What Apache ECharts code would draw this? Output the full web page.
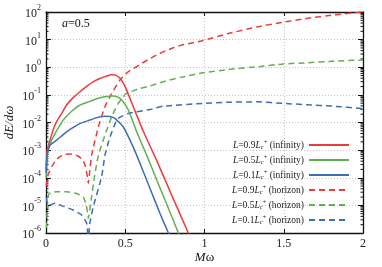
<!DOCTYPE html>
<html><head><meta charset="utf-8">
<script src="https://cdn.jsdelivr.net/npm/echarts@6/dist/echarts.min.js"></script>
<style>html,body{margin:0;padding:0;background:#fff}#c{width:382px;height:267px}</style>
</head><body><div id="c"></div>
<script>
// ---- data (Mω, dE/dω) ----
const xTickValues = [0, 0.5, 1, 1.5, 2];
const yDecades = [-6, -5, -4, -3, -2, -1, 0, 1, 2];
const coefs = ['0.9', '0.5', '0.1'];
const places = ['infinity', 'horizon'];

const infRed = [[0.001,2e-4],[0.005,7e-4],[0.012,1.3e-3],[0.025,2.3e-3],[0.045,5.5e-3],[0.067,1.07e-2],[0.10,2.2e-2],[0.13,4.3e-2],[0.17,7.8e-2],[0.215,0.13],[0.26,0.21],[0.30,0.30],[0.34,0.39],[0.383,0.48],[0.414,0.54],[0.44,0.52],[0.467,0.40],[0.50,0.195],[0.551,0.037],[0.614,4.8e-3],[0.70,4e-4],[0.80,1.9e-5],[0.898,1e-6],[0.93,4e-7]];
const infGreen = [[0.001,1e-4],[0.006,5e-4],[0.015,1.1e-3],[0.03,2e-3],[0.046,3e-3],[0.075,6e-3],[0.109,1.23e-2],[0.16,2.5e-2],[0.215,4.3e-2],[0.278,5.8e-2],[0.32,7.2e-2],[0.37,8.5e-2],[0.425,9.1e-2],[0.45,8.5e-2],[0.478,6.5e-2],[0.52,2.8e-2],[0.572,4.6e-3],[0.635,6.6e-4],[0.70,8e-5],[0.80,3.2e-6],[0.835,1e-6],[0.87,3.3e-7]];
const infBlue = [[0.001,1.5e-4],[0.006,6e-4],[0.015,1.1e-3],[0.03,1.6e-3],[0.067,2.3e-3],[0.10,3.3e-3],[0.13,4.6e-3],[0.17,6.5e-3],[0.215,9.3e-3],[0.278,1.23e-2],[0.32,1.5e-2],[0.372,1.7e-2],[0.404,1.65e-2],[0.435,1.4e-2],[0.488,6.9e-3],[0.53,2.3e-3],[0.572,6.6e-4],[0.65,5e-5],[0.72,5e-6],[0.772,1e-6],[0.80,4e-7]];
const horRed = [[0.002,5e-5],[0.006,8e-5],[0.015,1.4e-4],[0.036,2.5e-4],[0.06,4.2e-4],[0.088,5.8e-4],[0.12,7e-4],[0.151,7.2e-4],[0.18,6.8e-4],[0.204,6e-4],[0.23,4.5e-4],[0.246,2.9e-4],[0.258,1.4e-4],[0.267,6.3e-5],[0.275,1.6e-4],[0.288,6.6e-4],[0.33,6.9e-3],[0.372,3.7e-2],[0.414,0.11],[0.467,0.35],[0.52,0.69],[0.593,1.26],[0.645,1.9],[0.70,2.8],[0.74,3.6],[0.80,5],[0.85,6.2],[0.92,7.6],[0.992,9.3],[1.15,16.6],[1.34,29.5],[1.497,42.7],[1.65,58.9],[1.81,77.6],[2.0,102]];
const horGreen = [[0.003,1.5e-6],[0.008,8e-6],[0.015,2.3e-5],[0.03,2.9e-5],[0.067,3.1e-5],[0.13,3.1e-5],[0.194,2.7e-5],[0.235,2e-5],[0.255,1e-5],[0.267,3.4e-6],[0.285,1.6e-5],[0.305,1e-4],[0.33,6.3e-4],[0.372,3.5e-3],[0.414,1.6e-2],[0.456,4.9e-2],[0.5,0.105],[0.52,0.123],[0.593,0.17],[0.656,0.21],[0.74,0.30],[0.85,0.43],[0.992,0.63],[1.15,0.83],[1.34,1.05],[1.497,1.32],[1.65,1.45],[1.81,1.66],[2.0,1.82]];
const horBlue = [[0.002,2e-5],[0.008,1.2e-5],[0.015,1e-5],[0.057,1.2e-5],[0.109,9.3e-6],[0.172,6.8e-6],[0.225,4.5e-6],[0.257,2.2e-6],[0.267,5e-7],[0.275,2e-6],[0.298,8.9e-6],[0.351,1.1e-4],[0.372,6.6e-4],[0.404,3e-3],[0.446,1.23e-2],[0.47,1.6e-2],[0.53,2.2e-2],[0.656,2.95e-2],[0.74,3.9e-2],[0.992,4.9e-2],[1.15,5.4e-2],[1.34,5.6e-2],[1.497,4.9e-2],[1.65,4.4e-2],[1.81,3.9e-2],[2.0,3.2e-2]];

const FONT = 'Liberation Serif';
const RED = '#ec3b3b', GREEN = '#64ae52', BLUE = '#3e6db6';
const colors = [RED, GREEN, BLUE];
const dataSets = [infRed, infGreen, infBlue, horRed, horGreen, horBlue];

const names = [];
const series = [];
for (let p = 0; p < 2; p++) {
  for (let i = 0; i < 3; i++) {
    const name = 'L=' + coefs[i] + 'Lc+ (' + places[p] + ')';
    names.push(name);
    series.push({
      name: name, type: 'line', showSymbol: false, symbol: 'none', clip: true,
      smooth: 0.15,
      data: dataSets[p * 3 + i],
      lineStyle: { color: colors[i], width: 1.5, type: p === 0 ? 'solid' : [6, 4] },
      itemStyle: { color: colors[i] },
      z: p === 0 ? 3 : 2
    });
  }
}

function richName(name) {
  const m = name.match(/^L=([\d.]+)Lc\+ \((\w+)\)$/);
  return '{it|L}{rm|=' + m[1] + '}{it|L}{sub|c}{sup|+}{rm| (' + m[2] + ')}';
}

const chart = echarts.init(document.getElementById('c'), null, { renderer: 'canvas' });
const axisLineStyle = { color: '#111', width: 1.3 };
const gridLine = { show: true, lineStyle: { color: '#c4c4c4', width: 1, type: [1, 2] } };

chart.setOption({
  animation: false,
  backgroundColor: '#fff',
  grid: { left: 46, right: 19, top: 12, bottom: 34, containLabel: false, outerBoundsMode: 'none' },
  xAxis: [{
    type: 'value', min: 0, max: 2, interval: 0.5,
    axisLine: { show: true, onZero: false, lineStyle: axisLineStyle },
    axisTick: { show: true, inside: true, length: 4, lineStyle: { color: '#111' } },
    axisLabel: { fontFamily: FONT, fontSize: 12, color: '#222', margin: 5,
      formatter: v => String(xTickValues.find(t => Math.abs(t - v) < 1e-9) ?? v) },
    splitLine: gridLine,
    name: '{it|M}{rm|ω}', nameLocation: 'middle', nameGap: 18, nameMoveOverlap: false,
    nameTextStyle: { rich: {
      it: { fontFamily: FONT, fontStyle: 'italic', fontSize: 13, color: '#111' },
      rm: { fontFamily: FONT, fontSize: 13, color: '#111' } } }
  }, {
    type: 'value', min: 0, max: 2, interval: 0.5, position: 'top',
    axisLine: { show: true, onZero: false, lineStyle: axisLineStyle },
    axisTick: { show: true, inside: true, length: 4, lineStyle: { color: '#111' } },
    axisLabel: { show: false }, splitLine: { show: false }
  }],
  yAxis: [{
    type: 'log', logBase: 10, min: 1e-6, max: 100, interval: 1,
    axisLine: { show: true, onZero: false, lineStyle: axisLineStyle },
    axisTick: { show: true, inside: true, length: 5, lineStyle: { color: '#111' } },
    axisLabel: { margin: 5, color: '#222',
      formatter: v => '{b|10}{e|' + Math.round(Math.log10(v)) + '}',
      rich: {
        b: { fontFamily: FONT, fontSize: 12, color: '#222', lineHeight: 16, verticalAlign: 'bottom' },
        e: { fontFamily: FONT, fontSize: 8, color: '#222', lineHeight: 16, verticalAlign: 'top', padding: [0, 0, 6, 0] }
      } },
    splitLine: gridLine,
    name: 'dE/dω', nameLocation: 'middle', nameGap: 30, nameRotate: 90, nameMoveOverlap: false,
    nameTextStyle: { fontFamily: FONT, fontStyle: 'italic', fontSize: 13, color: '#111' }
  }, {
    type: 'log', logBase: 10, min: 1e-6, max: 100, interval: 1, position: 'right',
    axisLine: { show: true, onZero: false, lineStyle: axisLineStyle },
    axisTick: { show: true, inside: true, length: 5, lineStyle: { color: '#111' } },
    axisLabel: { show: false }, splitLine: { show: false }
  }],
  legend: {
    orient: 'vertical', right: 32, top: 139, align: 'right', padding: 0,
    itemWidth: 40, itemHeight: 10, itemGap: 3,
    data: names,
    itemStyle: { opacity: 0 },
    formatter: richName,
    textStyle: { rich: {
      it: { fontFamily: FONT, fontStyle: 'italic', fontSize: 9.5, color: '#222', lineHeight: 12, verticalAlign: 'middle' },
      rm: { fontFamily: FONT, fontSize: 9.5, color: '#222', lineHeight: 12, verticalAlign: 'middle' },
      sub: { fontFamily: FONT, fontStyle: 'italic', fontSize: 6.5, color: '#222', lineHeight: 8, verticalAlign: 'bottom' },
      sup: { fontFamily: FONT, fontSize: 6.5, color: '#222', lineHeight: 8, verticalAlign: 'top' }
    } }
  },
  series: series
});

// minor ticks of the log axes, placed through the axis scale
const gridRect = { l: 46, r: 382 - 19 };
const g = [];
for (let d = -6; d < 2; d++) {
  for (let k = 2; k <= 9; k++) {
    const y = chart.convertToPixel({ yAxisIndex: 0 }, k * Math.pow(10, d));
    g.push({ type: 'line', shape: { x1: gridRect.l, y1: y, x2: gridRect.l + 2.5, y2: y }, style: { stroke: '#111', lineWidth: 1 }, silent: true });
    g.push({ type: 'line', shape: { x1: gridRect.r, y1: y, x2: gridRect.r - 2.5, y2: y }, style: { stroke: '#111', lineWidth: 1 }, silent: true });
  }
}
g.push({ type: 'text', left: 62, top: 18, z: 10, style: {
  text: '{it|a}{rm|=0.5}',
  rich: { it: { fontFamily: FONT, fontStyle: 'italic', fontSize: 12, fill: '#111' },
          rm: { fontFamily: FONT, fontSize: 12, fill: '#111' } } } });
chart.setOption({ graphic: g });
</script>
</body></html>
